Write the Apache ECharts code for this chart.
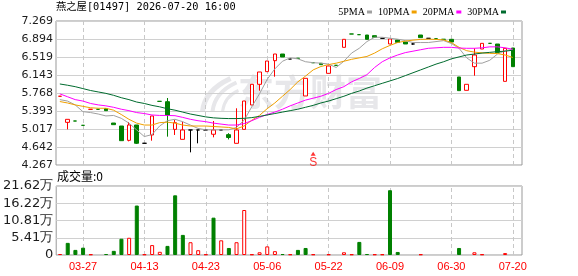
<!DOCTYPE html>
<html><head><meta charset="utf-8">
<script src="https://cdn.jsdelivr.net/npm/echarts@6/dist/echarts.min.js"></script>
<style>html,body{margin:0;padding:0;background:#fff}#c{width:578px;height:276px}</style>
</head><body><div id="c"></div>
<script>
const titleText = '燕之屋[01497] 2026-07-20 16:00';
const volTitle = '成交量:0';
const maNames = ['5PMA', '10PMA', '20PMA', '30PMA'];
const priceTicks = ['4.267','4.642','5.017','5.393','5.768','6.143','6.519','6.894','7.269'];
const volTicks = ['0','5.41万','10.81万','16.22万','21.62万'];
const dateTickIdx = [3, 11, 19, 27, 35, 43, 51, 59];
const dateLabels = ['03-27','04-13','04-23','05-06','05-22','06-09','06-30','07-20'];

const openP  = [5.70,5.156,5.184,5.094,5.428,5.428,5.441,5.142,5.080,4.781,5.101,4.720,4.893,5.594,5.587,5.010,4.802,4.997,4.997,4.997,4.908,4.997,4.900,4.719,5.010,5.518,5.949,6.213,6.442,6.581,6.477,6.491,5.706,6.400,6.387,6.178,6.345,6.720,6.998,6.984,6.977,6.963,6.908,6.790,6.873,6.831,6.790,6.977,6.908,6.900,6.887,6.887,6.102,5.824,6.317,6.685,6.803,6.789,6.011,6.706];
const closeP = [5.70,5.219,5.184,5.094,5.428,5.428,5.400,5.108,4.774,5.101,4.720,4.720,5.289,5.594,5.310,5.149,4.997,4.997,4.997,4.997,4.997,4.997,4.840,4.997,5.601,5.949,6.206,6.435,6.581,6.519,6.477,6.491,6.074,6.400,6.359,6.331,6.345,6.887,6.998,6.984,6.887,6.929,6.908,6.894,6.824,6.790,6.790,6.922,6.908,6.900,6.887,6.831,5.817,5.949,6.560,6.803,6.803,6.609,6.699,6.317];
const lowP   = [5.70,5.010,5.184,5.094,5.428,5.428,5.400,5.108,4.774,4.760,4.705,4.720,4.774,5.594,4.858,4.893,4.802,4.531,4.719,4.997,4.844,4.997,4.800,4.719,5.010,5.518,5.816,6.213,6.108,6.519,6.477,6.491,5.706,6.400,6.359,6.178,6.345,6.720,6.998,6.984,6.887,6.929,6.908,6.790,6.824,6.790,6.775,6.922,6.908,6.900,6.887,6.831,5.817,5.824,6.129,6.685,6.803,6.609,6.011,6.317];
const highP  = [5.70,5.219,5.184,5.094,5.428,5.428,5.441,5.142,5.080,5.163,5.101,4.720,5.289,5.594,5.664,5.205,5.170,4.997,4.997,4.997,5.184,4.997,4.930,5.449,5.601,5.949,6.206,6.435,6.581,6.581,6.477,6.491,6.074,6.400,6.387,6.331,6.345,6.887,6.998,6.984,6.977,6.963,6.908,6.894,6.873,6.831,6.805,6.977,6.908,6.900,6.887,6.887,6.102,5.949,6.699,6.803,6.803,6.789,6.699,6.706];
// 1 = up (red hollow), -1 = down (green), 0 = flat (black)
const candleDir = [1,1,-1,-1,1,-1,-1,-1,-1,1,-1,0,1,-1,-1,1,1,0,0,0,1,0,-1,1,1,1,1,1,1,-1,0,-1,1,-1,-1,1,-1,1,-1,-1,-1,-1,0,1,-1,-1,0,-1,0,-1,-1,-1,-1,1,1,1,-1,-1,1,-1];

// volume in 万
const volume = [0.3,3.8,1.6,2.3,0.2,0,0.3,1.3,5.1,5.4,15.5,0.2,3.1,1.0,2.85,18.7,6.3,4.0,1.5,0.2,11.7,4.6,2.2,4.0,14.1,0.2,0.85,2.7,1.2,0.3,0.2,1.6,2.2,0.2,0,0.2,0,0.85,0.2,4.1,0.3,0.2,0.2,20.3,0.95,0,0,0.2,0,0,0,0,2.2,0,0.85,0.2,0,0,0.6,0];
const volDir = [1,-1,-1,-1,1,0,-1,-1,-1,1,-1,1,1,1,-1,-1,-1,1,1,1,-1,1,-1,1,1,1,1,1,1,-1,1,-1,-1,1,0,1,0,1,1,-1,-1,1,1,-1,-1,0,0,1,0,0,0,0,-1,0,1,1,0,0,1,0];

const ma5  = [5.63,5.60,5.52,5.38,5.36,5.33,5.29,5.30,5.24,5.14,5.00,4.86,4.90,5.08,5.19,5.22,5.17,5.10,5.03,5.00,5.00,5.00,5.00,5.05,5.20,5.48,5.75,6.05,6.27,6.43,6.50,6.48,6.42,6.40,6.39,6.37,6.30,6.43,6.60,6.70,6.84,6.93,6.93,6.91,6.89,6.86,6.82,6.82,6.82,6.84,6.86,6.80,6.70,6.50,6.39,6.39,6.45,6.58,6.65,6.68];
const ma10 = [5.59,5.56,5.52,5.49,5.46,5.45,5.45,5.41,5.32,5.22,5.14,5.10,5.10,5.15,5.16,5.14,5.10,5.08,5.08,5.08,5.07,5.06,5.05,5.02,5.08,5.20,5.30,5.44,5.56,5.70,5.84,6.00,6.12,6.25,6.32,6.36,6.39,6.43,6.47,6.50,6.53,6.60,6.69,6.76,6.82,6.85,6.87,6.885,6.89,6.885,6.875,6.82,6.72,6.65,6.62,6.605,6.595,6.59,6.56,6.51];
const ma20 = [5.75,5.69,5.63,5.60,5.55,5.52,5.50,5.47,5.43,5.40,5.36,5.34,5.31,5.30,5.30,5.295,5.26,5.22,5.19,5.17,5.14,5.12,5.10,5.10,5.13,5.19,5.26,5.32,5.37,5.43,5.50,5.56,5.62,5.66,5.70,5.76,5.84,5.90,6.00,6.07,6.15,6.30,6.42,6.50,6.56,6.61,6.64,6.67,6.70,6.71,6.72,6.72,6.705,6.70,6.70,6.71,6.73,6.73,6.71,6.68];
const ma30 = [5.956,5.93,5.90,5.86,5.82,5.79,5.76,5.72,5.67,5.63,5.58,5.55,5.51,5.48,5.44,5.41,5.37,5.33,5.30,5.27,5.25,5.24,5.235,5.235,5.24,5.255,5.28,5.31,5.34,5.37,5.40,5.43,5.47,5.51,5.56,5.60,5.65,5.70,5.76,5.81,5.87,5.92,5.97,6.02,6.07,6.13,6.19,6.25,6.31,6.37,6.42,6.48,6.52,6.56,6.58,6.60,6.615,6.63,6.64,6.66];

const signalIdx = 33, signalPrice = 4.503, signalText = 'S';

const RED = '#ff0000', GREEN = '#008000', BLACK = '#000000';
const maColors = ['#a0a0a0', '#f0a000', '#ff00ff', '#006b2e'];
const dirColor = d => d === 1 ? RED : (d === -1 ? GREEN : BLACK);

const candleData = openP.map((o, i) => {
  const c = dirColor(candleDir[i]);
  const fill = candleDir[i] === 1 ? '#ffffff' : c;
  return { value: [i, o, closeP[i], lowP[i], highP[i]],
    itemStyle: { color: fill, color0: fill, borderColor: c, borderColor0: c, borderColorDoji: c } };
});
const volData = [];
volume.forEach((v, i) => {
  if (v > 0) {
    const c = dirColor(volDir[i]);
    volData.push({ value: [i, v], itemStyle: { color: volDir[i] === 1 ? '#ffffff' : c, borderColor: c, borderWidth: 1 } });
  }
});
const toXY = arr => arr.map((v, i) => [i, v]);

const pMin = 4.267, pMax = 7.269, pInt = (pMax - pMin) / 8;
const vMax = 21.62, vInt = vMax / 4;
const xMin = -0.5, xMax = 60.2;

const vLines = {
  silent: true, symbol: ['none', 'none'], label: { show: false }, animation: false, z: 1,
  lineStyle: { type: [4, 3], color: '#c8c8c8', width: 1 },
  data: dateTickIdx.map(v => ({ xAxis: v }))
};

const chart = echarts.init(document.getElementById('c'), null, { renderer: 'canvas' });
chart.setOption({
  animation: false,
  backgroundColor: '#ffffff',
  grid: [
    { left: 56, top: 21, width: 466, height: 144, show: true, borderColor: '#999999', borderWidth: 1 },
    { left: 56, top: 186, width: 466, height: 69, show: true, borderColor: '#999999', borderWidth: 1 }
  ],
  legend: {
    data: maNames, top: 2, right: 67, icon: 'rect', itemWidth: 5, itemHeight: 3, itemGap: 6,
    align: 'right', selectedMode: false,
    textStyle: { fontFamily: 'Liberation Serif', fontSize: 10, color: '#000', padding: [0, -3, 0, 0] }
  },
  xAxis: [
    { type: 'value', gridIndex: 0, min: xMin, max: xMax, axisLine: { show: false }, axisTick: { show: false },
      axisLabel: { show: false }, splitLine: { show: false } },
    { type: 'value', gridIndex: 1, min: xMin, max: xMax, axisLine: { show: false }, axisTick: { show: false },
      splitLine: { show: false },
      axisLabel: { customValues: dateTickIdx, color: RED, fontSize: 11, fontFamily: 'Liberation Sans', margin: 6,
        formatter: v => { const k = dateTickIdx.indexOf(Math.round(v)); return k >= 0 ? dateLabels[k] : ''; } } }
  ],
  yAxis: [
    { type: 'value', gridIndex: 0, min: pMin, max: pMax, interval: pInt, axisLine: { show: false }, axisTick: { show: false },
      splitLine: { show: true, lineStyle: { color: '#d0d0d0', width: 1 } },
      axisLabel: { margin: 3, color: '#1c1c1c', fontSize: 11, fontFamily: 'DejaVu Sans',
        formatter: v => priceTicks[Math.round((v - pMin) / pInt)] || '' } },
    { type: 'value', gridIndex: 1, min: 0, max: vMax, interval: vInt, axisLine: { show: false }, axisTick: { show: false },
      splitLine: { show: true, lineStyle: { color: '#d0d0d0', width: 1 } },
      axisLabel: { margin: 3, color: '#1c1c1c', fontSize: 13, fontFamily: 'DejaVu Sans',
        formatter: v => volTicks[Math.round(v / vInt)] || '' } }
  ],
  graphic: [
    { type: 'text', left: 56, top: 2, style: { text: titleText, fontSize: 10.3, fontFamily: "'DejaVu Sans Mono', 'Noto Sans CJK SC'", fill: '#000' } },
    { type: 'text', left: 57, top: 170, style: { text: volTitle, fontSize: 12, fontFamily: 'Noto Sans CJK SC', fill: '#000' } },
    { type: 'group', left: 200, top: 76, z: -10, children: [
      { type: 'bezierCurve', shape: { x1: 2, y1: 33, x2: 30, y2: 0, cpx1: 4, cpy1: 12 }, style: { stroke: '#e7e7ea', lineWidth: 5, fill: null } },
      { type: 'bezierCurve', shape: { x1: 12, y1: 33, x2: 36, y2: 4, cpx1: 14, cpy1: 14 }, style: { stroke: '#e7e7ea', lineWidth: 4, fill: null } },
      { type: 'bezierCurve', shape: { x1: 22, y1: 33, x2: 38, y2: 12, cpx1: 24, cpy1: 18 }, style: { stroke: '#e7e7ea', lineWidth: 3, fill: null } }
    ] },
    { type: 'text', left: 238, top: 74, z: -10, style: { text: '东方财富', fontSize: 36, fontWeight: 'bold', fontFamily: 'Noto Sans CJK SC', fill: '#e7e7ea' } }
  ],
  series: [
    { type: 'line', xAxisIndex: 0, yAxisIndex: 0, data: [], z: 1, markLine: vLines },
    { type: 'line', xAxisIndex: 1, yAxisIndex: 1, data: [], z: 1, markLine: vLines },
    { type: 'candlestick', xAxisIndex: 0, yAxisIndex: 0, barWidth: 4, data: candleData, z: 2,
      itemStyle: { borderWidth: 1 } },
    { type: 'bar', xAxisIndex: 1, yAxisIndex: 1, barWidth: 4, data: volData, z: 2 },
    { name: maNames[0], type: 'line', xAxisIndex: 0, yAxisIndex: 0, data: toXY(ma5), showSymbol: false, z: 3,
      color: maColors[0], lineStyle: { width: 1, color: maColors[0] } },
    { name: maNames[1], type: 'line', xAxisIndex: 0, yAxisIndex: 0, data: toXY(ma10), showSymbol: false, z: 3,
      color: maColors[1], lineStyle: { width: 1, color: maColors[1] } },
    { name: maNames[2], type: 'line', xAxisIndex: 0, yAxisIndex: 0, data: toXY(ma20), showSymbol: false, z: 3,
      color: maColors[2], lineStyle: { width: 1, color: maColors[2] } },
    { name: maNames[3], type: 'line', xAxisIndex: 0, yAxisIndex: 0, data: toXY(ma30), showSymbol: false, z: 3,
      color: maColors[3], lineStyle: { width: 1, color: maColors[3] } },
    { type: 'scatter', xAxisIndex: 0, yAxisIndex: 0, data: [[signalIdx, signalPrice]], symbol: 'triangle', symbolSize: [5, 4], z: 4,
      itemStyle: { color: RED },
      label: { show: true, formatter: signalText, position: 'bottom', distance: 1, color: RED, fontSize: 12, fontFamily: 'Liberation Sans' } }
  ]
});
</script></body></html>
